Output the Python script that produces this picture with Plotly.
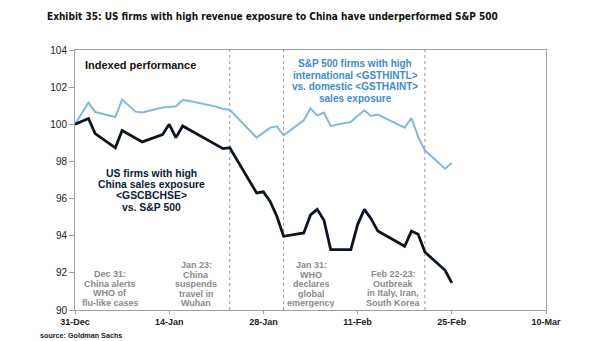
import pandas as pd
import plotly.graph_objects as go

# Trading days and index levels (31-Dec = 100)
dates = [
    "2019-12-31", "2020-01-02", "2020-01-03", "2020-01-06", "2020-01-07", "2020-01-08",
    "2020-01-09", "2020-01-10", "2020-01-13", "2020-01-14", "2020-01-15", "2020-01-16",
    "2020-01-17", "2020-01-21", "2020-01-22", "2020-01-23", "2020-01-24", "2020-01-27",
    "2020-01-28", "2020-01-29", "2020-01-30", "2020-01-31", "2020-02-03", "2020-02-04",
    "2020-02-05", "2020-02-06", "2020-02-07", "2020-02-10", "2020-02-11", "2020-02-12",
    "2020-02-13", "2020-02-14", "2020-02-18", "2020-02-19", "2020-02-20", "2020-02-21",
    "2020-02-24", "2020-02-25",
]
china_exposure = [
    100.0, 100.31, 99.5, 98.73, 99.66, 99.45,
    99.25, 99.05, 99.44, 100.0, 99.28, 99.91,
    99.71, 98.9, 98.69, 98.74, 98.13, 96.30,
    96.36, 95.85, 95.05, 93.97, 94.15, 95.12,
    95.42, 94.83, 93.25, 93.25, 94.6, 95.42,
    94.92, 94.25, 93.43, 94.25, 94.08, 93.12,
    92.14, 91.46,
]
intl_vs_domestic = [
    100.0, 101.17, 100.66, 100.39, 101.33, 101.0,
    100.68, 100.63, 100.9, 100.93, 100.97, 101.31,
    101.25, 100.95, 100.82, 100.78, 100.4, 99.28,
    99.55, 99.82, 99.89, 99.41, 100.22, 100.85,
    100.48, 100.63, 99.91, 100.13, 100.44, 100.75,
    100.45, 100.52, 99.82, 100.34, 99.32, 98.6,
    97.61, 97.92,
]

tick_dates = ["2019-12-31", "2020-01-14", "2020-01-28", "2020-02-11", "2020-02-25", "2020-03-10"]
tick_labels = ["31-Dec", "14-Jan", "28-Jan", "11-Feb", "25-Feb", "10-Mar"]
y_ticks = [90, 92, 94, 96, 98, 100, 102, 104]

event_dates = ["2020-01-23", "2020-01-31", "2020-02-21"]
event_texts = [
    ["Dec 31:", "China alerts", "WHO of", "flu-like cases"],
    ["Jan 23:", "China", "suspends", "travel in", "Wuhan"],
    ["Jan 31:", "WHO", "declares", "global", "emergency"],
    ["Feb 22-23:", "Outbreak", "in Italy, Iran,", "South Korea"],
]
china_label = ["US firms with high", "China sales exposure", "<GSCBCHSE>", "vs. S&P 500"]
intl_label = ["S&P 500 firms with high", "international <GSTHINTL>",
              "vs. domestic <GSTHAINT>", "sales exposure"]

W, H = 605, 341
L, R, T, B = 75, 546, 50, 310
FONT = "Liberation Sans, Arial, sans-serif"


def px_x(px):
    return (px - L) / (R - L)


def px_y(py):
    return (B - py) / (B - T)


fig = go.Figure()
fig.add_trace(go.Scatter(
    x=pd.to_datetime(dates), y=intl_vs_domestic, mode="lines",
    line=dict(color="#86b6dd", width=2), hoverinfo="skip", showlegend=False,
))
fig.add_trace(go.Scatter(
    x=pd.to_datetime(dates), y=china_exposure, mode="lines",
    line=dict(color="#0c1424", width=2.8), hoverinfo="skip", showlegend=False,
))

for d in event_dates:
    fig.add_shape(type="line", xref="x", yref="y", x0=d, x1=d, y0=90, y1=104,
                  line=dict(color="#9a9a9a", width=1, dash="dot"), layer="below")

annotations = []


def text_block(lines, cx, y_first, step, size, color):
    # one annotation per line keeps the tight line spacing of the labels
    for i, s in enumerate(lines):
        annotations.append(dict(
            x=px_x(cx), y=px_y(y_first + i * step), xref="paper", yref="paper",
            text=f"<b>{s}</b>", showarrow=False,
            xanchor="center", yanchor="middle", height=step, borderpad=0,
            font=dict(family=FONT, size=size, color=color),
        ))


# event descriptions
text_block(event_texts[0], 110, 274, 9.7, 9, "#8a8a8a")
text_block(event_texts[1], 196, 265, 9.6, 9, "#8a8a8a")
text_block(event_texts[2], 311, 265, 9.6, 9, "#8a8a8a")
text_block(event_texts[3], 393, 274, 9.7, 9, "#8a8a8a")

# series labels
text_block(china_label, 151, 173, 11.4, 10.4, "#0c1a3a")
text_block(intl_label, 355, 64, 11.7, 10, "#3d8ccb")

annotations.append(dict(
    x=px_x(83), y=px_y(65), xref="paper", yref="paper", text="<b>Indexed performance</b>",
    showarrow=False, xanchor="left", yanchor="middle",
    font=dict(family=FONT, size=11, color="#111111"),
))
annotations.append(dict(
    x=px_x(45), y=px_y(16), xref="paper", yref="paper",
    text="<b>Exhibit 35: US firms with high revenue exposure to China have underperformed S&P 500</b>",
    showarrow=False, xanchor="left", yanchor="middle",
    font=dict(family="DejaVu Sans Condensed", size=10, color="#111111"),
))
annotations.append(dict(
    x=px_x(38), y=px_y(335), xref="paper", yref="paper", text="<b>source: Goldman Sachs</b>",
    showarrow=False, xanchor="left", yanchor="middle",
    font=dict(family=FONT, size=7.2, color="#222222"),
))

fig.update_layout(
    width=W, height=H,
    margin=dict(l=L, r=W - R, t=T, b=H - B, pad=0),
    paper_bgcolor="white", plot_bgcolor="white",
    annotations=annotations,
    xaxis=dict(
        type="date", range=["2019-12-31", "2020-03-10"],
        tickvals=tick_dates, ticktext=tick_labels,
        showgrid=False, zeroline=False,
        showline=True, linecolor="#a0a0a0", linewidth=1, mirror=True,
        ticks="outside", ticklen=3, tickcolor="#a0a0a0",
        tickfont=dict(family=FONT, size=9, color="#222222", weight="bold"),
    ),
    yaxis=dict(
        range=[90, 104], tickvals=y_ticks,
        showgrid=False, zeroline=False,
        showline=True, linecolor="#a0a0a0", linewidth=1, mirror=True,
        ticks="outside", ticklen=5, tickcolor="#a0a0a0",
        tickfont=dict(family=FONT, size=10, color="#222222"),
    ),
)

fig.write_html("out.html")
